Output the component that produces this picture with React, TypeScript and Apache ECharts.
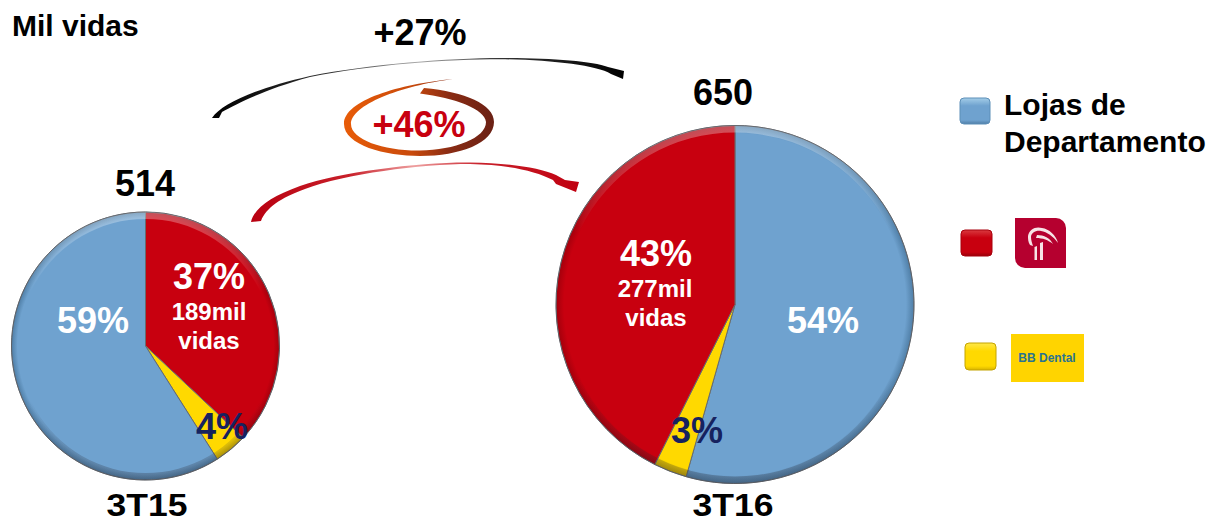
import React, { useEffect, useRef } from "react";
import * as echarts from "echarts";

const unit = "Mil vidas";
const periods = ["3T15", "3T16"];
const totals = ["514", "650"];
const pie3T15Names = ["Bradesco", "BB Dental", "Lojas de Departamento"];
const pie3T15Values = [37, 4, 59];
const pie3T16Names = ["Lojas de Departamento", "BB Dental", "Bradesco"];
const pie3T16Values = [54.4, 3, 42.6];
const pct3T15 = ["37%", "4%", "59%"];
const pct3T16 = ["54%", "3%", "43%"];
const lives3T15 = ["189mil", "vidas"];
const lives3T16 = ["277mil", "vidas"];
const growthTotal = "+27%";
const growthBradesco = "+46%";
const legendLabel = ["Lojas de", "Departamento"];
const bbLogoText = "BB Dental";

const BLUE = "#6fa2cf";
const RED = "#c8000f";
const YELLOW = "#ffd900";
const NAVY = "#16225f";
const FONT = '"Liberation Sans", Arial, sans-serif';

const colorOf: Record<string, string> = {
  "Lojas de Departamento": BLUE,
  Bradesco: RED,
  "BB Dental": YELLOW,
};
const edgeOf: Record<string, string> = {
  "Lojas de Departamento": "#4f7ea6",
  Bradesco: "#a3000c",
  "BB Dental": "#c9a800",
};

const BLACK_ARROW =
  "M212 118 C222 103 258 88 310 76 C370 64 450 58 500 58 C550 58 592 61 608 67 L624 71 L623 79 L611 74 C596 65 550 60 500 59.2 C450 59.2 370 64.5 310 77 C266 89 238 103 222 112 L219 118 Z";
const RED_ARROW =
  "M251 222 C254 208 272 196 300 186 C340 172 420 162 470 162.5 C510 163 540 168 556 175 L565 180 L579 182 L576 192 L556 184 L553 180 C535 171 510 165 470 164 C420 164 345 174 305 189 C280 198 266 208 261 221 Z";
const SWOOSH =
  "M453 79 C400 84 344 100 344 124 C344 145 385 156 420 156 C460 156 494 143 494 122 C494 104 465 92 424 88 L420 93.5 C455 98 485 109 486 122 C486 138 455 150 420 150.5 C385 151 351 140 351 124 C351 105 400 86 453 79 Z";
const BRADESCO_MARK =
  "M1028 236 C1029 229 1036 226 1042 228 C1049 229 1056 235 1058 243 C1053 236 1047 232 1041 231 C1036 230 1031 233 1031 237 C1031 240 1032 243 1033 246 L1030 245 C1028 242 1028 239 1028 236 Z M1037 235 C1044 235 1050 238 1053 244 C1048 240 1043 238 1036 238 Z M1034.5 247 L1037 246 L1037 260 L1034.5 260 Z M1040 243 L1043 242 L1043 260 L1040 260 Z";

function slice(name: string, value: number, cx: number, cy: number, r: number) {
  return {
    name,
    value,
    itemStyle: {
      color: new echarts.graphic.RadialGradient(
        cx,
        cy,
        r,
        [
          { offset: 0, color: colorOf[name] },
          { offset: 0.955, color: colorOf[name] },
          { offset: 1, color: edgeOf[name] },
        ],
        true as any,
      ),
    },
  };
}

function pieSeries(names: string[], values: number[], cx: number, cy: number, r: number) {
  return {
    type: "pie",
    silent: true,
    center: [cx, cy],
    radius: [0, r],
    startAngle: 90,
    clockwise: true,
    label: { show: false },
    labelLine: { show: false },
    itemStyle: { borderColor: "#666b70", borderWidth: 1 },
    data: names.map((n, i) => slice(n, values[i], cx, cy, r)),
  };
}

function bevel(cx: number, cy: number, r: number) {
  return [
    {
      type: "ring",
      z: 50,
      silent: true,
      shape: { cx, cy, r, r0: r - 7 },
      style: {
        fill: new echarts.graphic.LinearGradient(
          0,
          cy - r,
          0,
          cy + r,
          [
            { offset: 0, color: "rgba(255,255,255,0.32)" },
            { offset: 0.3, color: "rgba(255,255,255,0)" },
            { offset: 0.7, color: "rgba(40,40,50,0)" },
            { offset: 1, color: "rgba(40,40,50,0.3)" },
          ],
          true as any,
        ),
      },
    },
    {
      type: "circle",
      z: 51,
      silent: true,
      shape: { cx, cy, r },
      style: { fill: "none", stroke: "rgba(85,88,95,0.55)", lineWidth: 1 },
    },
  ];
}

function txt(
  text: string,
  x: number,
  y: number,
  size: number,
  fill: string,
  align = "center",
  scaleX = 1,
) {
  return {
    type: "text",
    z: 100,
    silent: true,
    x,
    y,
    scaleX,
    style: {
      text,
      fill,
      font: `bold ${size}px ${FONT}`,
      align,
      verticalAlign: "middle",
    },
  };
}

function swatch(x: number, y: number, w: number, h: number, light: string, base: string, dark: string, edge: string) {
  return {
    type: "rect",
    z: 60,
    silent: true,
    shape: { x, y, width: w, height: h, r: 4 },
    style: {
      fill: new echarts.graphic.LinearGradient(0, 0, 0, 1, [
        { offset: 0, color: light },
        { offset: 0.3, color: base },
        { offset: 0.85, color: base },
        { offset: 1, color: dark },
      ]),
      stroke: edge,
      lineWidth: 1,
    },
  };
}

export default function App() {
  const ref = useRef<HTMLDivElement>(null);
  useEffect(() => {
    document.body.style.margin = "0";
    echarts.graphic.registerShape("blackArrow", echarts.graphic.extendPath(BLACK_ARROW, {}));
    echarts.graphic.registerShape("redArrow", echarts.graphic.extendPath(RED_ARROW, {}));
    echarts.graphic.registerShape("swoosh", echarts.graphic.extendPath(SWOOSH, {}));
    echarts.graphic.registerShape("bradescoMark", echarts.graphic.extendPath(BRADESCO_MARK, {}));
    const chart = echarts.init(ref.current!, undefined, { renderer: "svg" });
    const A = { cx: 145.5, cy: 346, r: 134 };
    const B = { cx: 735, cy: 304.5, r: 179 };
    chart.setOption({
      animation: false,
      backgroundColor: "#ffffff",
      series: [
        pieSeries(pie3T15Names, pie3T15Values, A.cx, A.cy, A.r),
        pieSeries(pie3T16Names, pie3T16Values, B.cx, B.cy, B.r),
      ],
      graphic: [
        ...bevel(A.cx, A.cy, A.r),
        ...bevel(B.cx, B.cy, B.r),
        {
          type: "blackArrow",
          z: 40,
          silent: true,
          style: {
            fill: new echarts.graphic.LinearGradient(0, 0, 1, 0, [
              { offset: 0, color: "#000000" },
              { offset: 0.3, color: "#333333" },
              { offset: 0.5, color: "#aaaaaa" },
              { offset: 0.7, color: "#333333" },
              { offset: 1, color: "#000000" },
            ]),
          },
        },
        {
          type: "redArrow",
          z: 40,
          silent: true,
          style: {
            fill: new echarts.graphic.LinearGradient(0, 0, 1, 0, [
              { offset: 0, color: "#b80010" },
              { offset: 0.3, color: "#c8202a" },
              { offset: 0.5, color: "#eea0a0" },
              { offset: 0.7, color: "#c8202a" },
              { offset: 1, color: "#c00010" },
            ]),
          },
        },
        {
          type: "swoosh",
          z: 40,
          silent: true,
          style: {
            fill: new echarts.graphic.LinearGradient(0, 0, 1, 0, [
              { offset: 0, color: "#e85c08" },
              { offset: 0.45, color: "#c94a0c" },
              { offset: 0.7, color: "#8a2c14" },
              { offset: 1, color: "#6a2014" },
            ]),
          },
        },
        txt(unit, 12, 25, 30, "#000000", "left"),
        txt(growthTotal, 420, 32, 36, "#000000"),
        txt(growthBradesco, 419, 124, 36, "#c8000f"),
        txt(totals[0], 145, 183, 36, "#000000"),
        txt(totals[1], 723, 92, 36, "#000000"),
        txt(periods[0], 147, 504.5, 32, "#000000", "center", 1.11),
        txt(periods[1], 733, 504.5, 32, "#000000", "center", 1.11),
        txt(pct3T15[0], 209, 276, 36, "#ffffff"),
        txt(lives3T15[0], 209, 311, 24, "#ffffff"),
        txt(lives3T15[1], 209, 340, 24, "#ffffff"),
        txt(pct3T15[1], 222, 426, 36, NAVY),
        txt(pct3T15[2], 93, 320, 36, "#ffffff"),
        txt(pct3T16[0], 823, 320, 36, "#ffffff"),
        txt(pct3T16[1], 697, 430, 36, NAVY),
        txt(pct3T16[2], 656, 253, 36, "#ffffff"),
        txt(lives3T16[0], 655, 288, 24, "#ffffff"),
        txt(lives3T16[1], 656, 317, 24, "#ffffff"),
        swatch(960, 98, 30, 26, "#a4cde8", BLUE, "#4f7ea6", "#5d8fb8"),
        swatch(961, 230, 31, 26, "#d93a3f", RED, "#98000a", "#a8000c"),
        swatch(965, 343, 31, 27, "#ffe84a", YELLOW, "#d8b400", "#c4a400"),
        txt(legendLabel[0], 1004, 104, 30, "#000000", "left"),
        txt(legendLabel[1], 1004, 141, 30, "#000000", "left"),
        {
          type: "rect",
          z: 60,
          silent: true,
          shape: { x: 1015, y: 218, width: 51, height: 50, r: [0, 10, 0, 10] },
          style: { fill: "#b5002f" },
        },
        { type: "bradescoMark", z: 61, silent: true, style: { fill: "#f7e3e6" } },
        {
          type: "rect",
          z: 60,
          silent: true,
          shape: { x: 1011, y: 334, width: 73, height: 48 },
          style: { fill: "#ffd400" },
        },
        txt(bbLogoText, 1047, 358, 12, "#2a7390"),
      ],
    });
    return () => chart.dispose();
  }, []);
  return <div ref={ref} style={{ position: "absolute", left: 0, top: 0, width: 1210, height: 523 }} />;
}
